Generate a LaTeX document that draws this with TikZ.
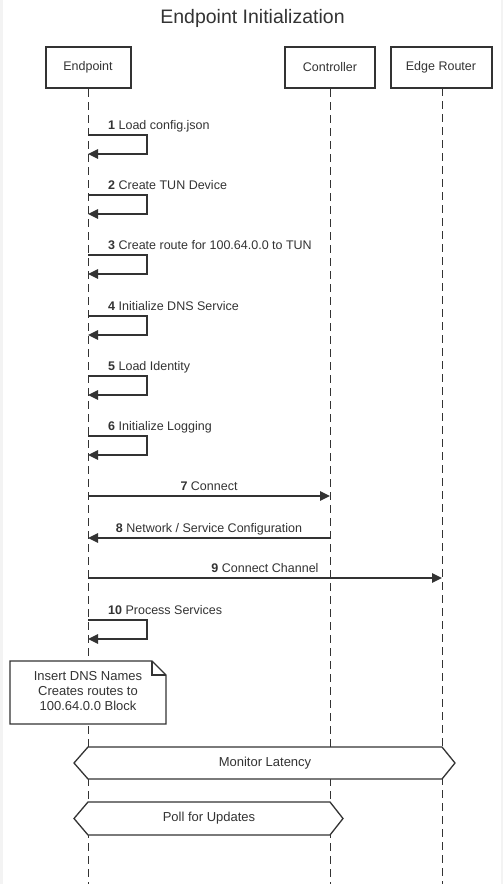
\documentclass[tikz,border=0pt]{standalone}
\usepackage{fontspec}
\setmainfont{Liberation Sans}
\usetikzlibrary{arrows.meta,calc}
\definecolor{ink}{HTML}{333333}
\definecolor{edge}{HTML}{F3F3F3}
\begin{document}
\begin{tikzpicture}[x=1pt,y=-1pt,
 actor/.style={draw=ink,line width=2pt,minimum width=#1,minimum height=41pt,inner sep=0pt,font=\fontsize{12.5}{15}\selectfont,text=ink},
 life/.style={draw=ink,line width=1pt,dash pattern=on 8pt off 5pt},
 msg/.style={draw=ink,line width=1.3pt,-{Triangle[length=10pt,width=9.5pt]}},
 lbl/.style={font=\fontsize{12.5}{15}\selectfont,text=ink,inner sep=0pt},
 notebox/.style={draw=ink,line width=1.3pt,fill=white},
 frag/.style={draw=ink,line width=1.3pt,fill=white},
 fragtxt/.style={font=\fontsize{13}{15}\selectfont,text=ink,inner sep=0pt}]
\useasboundingbox (0,0) rectangle (503,884);
\fill[white] (0,0) rectangle (503,884);
\fill[edge] (0,0) rectangle (3,884);
\fill[edge] (501,0) rectangle (503,884);

% title
\node[font=\fontsize{19.5}{23}\selectfont,text=ink,anchor=base,inner sep=0pt] (title) at (252.5,23) {Endpoint Initialization};

% actors
\node[actor=85pt] (ep) at (88,67.5) {Endpoint};
\node[actor=90pt] (ct) at (330,67.5) {Controller};
\node[actor=101pt] (er) at (441,67.5) {Edge Router};

% lifelines
\coordinate (epEnd) at (88,884);
\coordinate (ctEnd) at (330,884);
\coordinate (erEnd) at (442,884);
\coordinate (erTop) at (442,88);
\draw[life] (ep.south) -- (epEnd);
\draw[life] (ct.south) -- (ctEnd);
\draw[life] (erTop) -- (erEnd);

% self messages
\foreach \i/\y/\t in {1/135/Load config.json, 2/195/Create TUN Device, 3/255/Create route for 100.64.0.0 to TUN, 4/316/Initialize DNS Service, 5/376/Load Identity, 6/436/Initialize Logging, 10/620/Process Services}{
  \coordinate (s\i a) at (88,\y);
  \coordinate (s\i b) at (147,\y);
  \coordinate (s\i c) at (147,\y+19);
  \coordinate (s\i d) at (88,\y+19);
  \draw[msg] (s\i a) -- (s\i b) -- (s\i c) -- (s\i d);
  \node[lbl,anchor=base west] (l\i) at (108,\y-6) {\textbf{\i} \t};
}

% messages between lifelines
\coordinate (m7a) at (88,496);  \coordinate (m7b) at (330,496);
\coordinate (m8a) at (330,538); \coordinate (m8b) at (88,538);
\coordinate (m9a) at (88,578);  \coordinate (m9b) at (442,578);
\draw[msg] (m7a) -- (m7b);
\draw[msg] (m8a) -- (m8b);
\draw[msg] (m9a) -- (m9b);
\node[lbl,anchor=base] (l7) at (209,490) {\textbf{7} Connect};
\node[lbl,anchor=base] (l8) at (209,532) {\textbf{8} Network / Service Configuration};
\node[lbl,anchor=base] (l9) at (265,572) {\textbf{9} Connect Channel};

% note
\draw[notebox] (10,661) -- (152,661) -- (166,675) -- (166,724) -- (10,724) -- cycle;
\draw[draw=ink,line width=1.3pt] (152,661) -- (152,675) -- (166,675);
\node[fragtxt,align=center] (note) at (88,691) {Insert DNS Names\\Creates routes to\\100.64.0.0 Block};

% monitor latency
\draw[frag] (74,763) -- (88,747) -- (442,747) -- (455,763) -- (442,779) -- (88,779) -- cycle;
\node[fragtxt] (ml) at (265,763) {Monitor Latency};

% poll for updates
\draw[frag] (74,818.5) -- (88,802) -- (330,802) -- (343,818.5) -- (330,835) -- (88,835) -- cycle;
\node[fragtxt] (pu) at (209,818.5) {Poll for Updates};
\end{tikzpicture}
\end{document}
